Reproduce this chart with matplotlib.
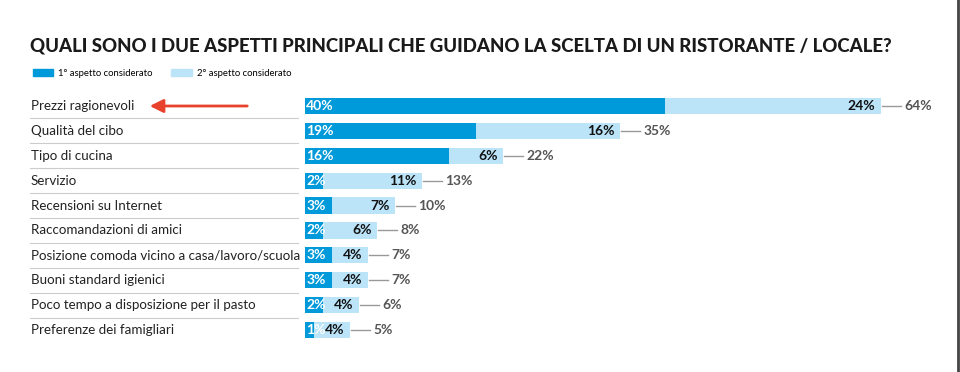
import matplotlib
matplotlib.use("Agg")
import matplotlib.pyplot as plt
from matplotlib.lines import Line2D
from matplotlib.patches import Patch
from matplotlib.transforms import blended_transform_factory

plt.rcParams['font.family'] = ['Lato', 'DejaVu Sans']

titolo = "QUALI SONO I DUE ASPETTI PRINCIPALI CHE GUIDANO LA SCELTA DI UN RISTORANTE / LOCALE?"
aspetti = [
    "Prezzi ragionevoli",
    "Qualità del cibo",
    "Tipo di cucina",
    "Servizio",
    "Recensioni su Internet",
    "Raccomandazioni di amici",
    "Posizione comoda vicino a casa/lavoro/scuola",
    "Buoni standard igienici",
    "Poco tempo a disposizione per il pasto",
    "Preferenze dei famigliari",
]
primo = [40, 19, 16, 2, 3, 2, 3, 3, 2, 1]
secondo = [24, 16, 6, 11, 7, 6, 4, 4, 4, 4]
totale = [64, 35, 22, 13, 10, 8, 7, 7, 6, 5]
legenda = ["1° aspetto considerato", "2° aspetto considerato"]

BLU = '#0099d9'
AZZURRO = '#bce4f9'

W, H = 960, 372
fig = plt.figure(figsize=(W / 100, H / 100), dpi=100)
ax = fig.add_axes([305 / W, 1 - 342.5 / H, (950 - 305) / W, 249 / H])
ax.set_xlim(0, (950 - 305) / 9)
ax.set_ylim(len(aspetti) - 0.5, -0.5)
ax.axis('off')

y = list(range(len(aspetti)))
ax.barh(y, primo, height=0.65, color=BLU)
ax.barh(y, secondo, left=primo, height=0.65, color=AZZURRO)

for i in y:
    ax.annotate(f"{primo[i]}%", (0, i), xytext=(1, 0), textcoords='offset points',
                ha='left', va='center', color='white', fontsize=10, fontweight='bold')
    ax.annotate(f"{secondo[i]}%", (totale[i], i), xytext=(-4, 0), textcoords='offset points',
                ha='right', va='center', color='#111111', fontsize=10, fontweight='bold')
    ax.plot([totale[i] + 0.1, totale[i] + 2.2], [i, i], color='#999999', lw=1)
    ax.text(totale[i] + 2.6, i, f"{totale[i]}%", ha='left', va='center',
            color='#555555', fontsize=10, fontweight='bold')

# etichette a sinistra e linee separatrici
tr = blended_transform_factory(fig.transFigure, ax.transData)
for i, nome in enumerate(aspetti):
    fig.text(31 / W, i, nome, transform=tr, ha='left', va='center',
             fontsize=9.6, color='#222222')
    if i < len(aspetti) - 1:
        fig.add_artist(Line2D([30 / W, 298 / W], [i + 0.5, i + 0.5], transform=tr,
                              color='#cccccc', lw=0.8))

fig.text(30 / W, 1 - 46 / H, titolo, ha='left', va='center', fontsize=13.4,
         fontweight='black', color='#1a1a1a')

handles = [Patch(color=BLU), Patch(color=AZZURRO)]
fig.legend(handles, legenda, loc='center left', bbox_to_anchor=(24 / W, 1 - 73 / H),
           ncol=2, frameon=False, fontsize=6.8, handlelength=2.2, handleheight=0.8,
           columnspacing=2.0, handletextpad=0.5)

# freccia rossa
fig.add_artist(matplotlib.patches.FancyArrowPatch(
    (250 / W, 1 - 106 / H), (147 / W, 1 - 106 / H), transform=fig.transFigure,
    arrowstyle='-|>,head_length=8,head_width=4', color='#e8412c', lw=2))

# bordo destro dello screenshot
fig.add_artist(Line2D([958 / W, 958 / W], [0, 1], color='#444444', lw=2))

fig.savefig("out.png", dpi=100)
